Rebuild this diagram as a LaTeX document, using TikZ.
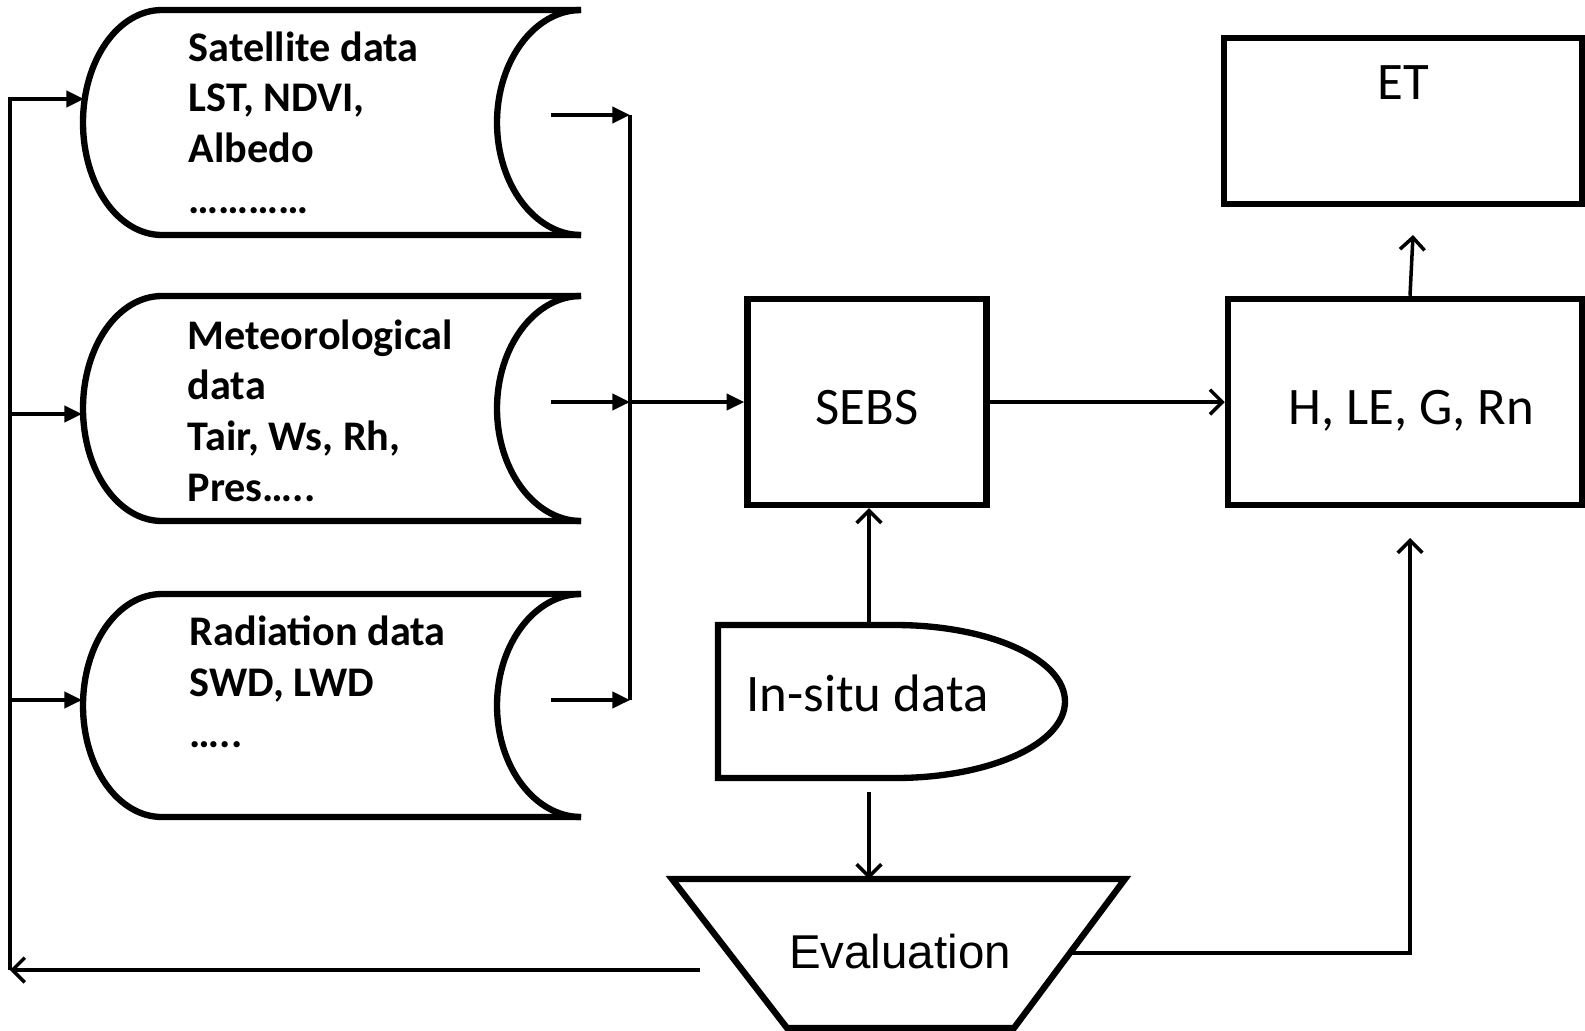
\documentclass[tikz,border=0pt]{standalone}
\usepackage{fontspec}
\setmainfont{Carlito}
\newfontfamily\arialfont{Liberation Sans}
\usetikzlibrary{arrows.meta,calc}

\begin{document}
\begin{tikzpicture}[x=0.01cm,y=-0.01cm,line width=1pt,
	>={Straight Barb[length=3.5pt,width=7pt]},
	voll/.style={-{Triangle[length=5pt,width=4.6pt]}},
	rand/.style={line width=1.8pt},
	kasten/.style={draw,rand,font=\fontsize{15}{18}\selectfont,text height=0.44cm,text depth=0pt},
	fett/.style={font=\bfseries\fontsize{12}{14.4}\selectfont,align=left,anchor=base west,inner sep=0pt}]
\useasboundingbox (0,0) rectangle (1585,1030);

% Datenspeicher: oben, unten
\def\speicher#1#2{
	\pgfmathsetmacro\ym{(#1+#2)/2}
	\pgfmathsetmacro\yr{(#2-#1)/2}
	\draw[rand] (581,#1) -- (162,#1)
		.. controls (118,#1) and (83,{\ym-0.552*\yr}) .. (83,\ym)
		.. controls (83,{\ym+0.552*\yr}) and (118,#2) .. (162,#2) -- (581,#2);
	\draw[rand] (581,#1)
		.. controls (535,#1) and (497,{\ym-0.552*\yr}) .. (497,\ym)
		.. controls (497,{\ym+0.552*\yr}) and (535,#2) .. (581,#2);
}

\speicher{10}{235}
\speicher{296}{521}
\speicher{594}{817}

% Texte, Anker auf der letzten Zeile
\node[fett] (sat) at (187,213) {Satellite data\\LST, NDVI,\\Albedo\\…………};
\node[fett] (met) at (186,501) {Meteorological\\data\\Tair, Ws, Rh,\\Pres…..};
\node[fett] (rad) at (188,747) {Radiation data\\SWD, LWD\\…..};

\node[kasten,minimum width=2.39cm,minimum height=2.06cm] (sebs) at (867,402) {SEBS};
\node[kasten,minimum width=3.54cm,minimum height=2.06cm] (flux) at (1405,402) {\hspace{0.12cm}H, LE, G, Rn};
\node[kasten,minimum width=3.58cm,minimum height=1.66cm,text height=0.34cm,text depth=0.76cm] (et) at (1403,121) {ET};

% In-situ Daten
\draw[rand] (895,625) -- (718,625) -- (718,778) -- (895,778)
	.. controls (989,778) and (1065,744) .. (1065,701.5)
	.. controls (1065,659) and (989,625) .. (895,625) -- cycle;
\node[font=\fontsize{15}{18}\selectfont,anchor=west] (insitu) at (733,693) {In-situ data};

% Evaluation
\draw[rand] (672,879) -- (1125,879) -- (1014,1028) -- (787,1028) -- cycle;
\node[font=\arialfont\fontsize{13.5}{16}\selectfont] (eval) at (900,952) {Evaluation};

\coordinate (rueck) at (10,970);
\coordinate (eval-w) at (700,970);
\coordinate (eval-o) at (1070,953);
\coordinate (eval-n) at (869,879);
\coordinate (insitu-n) at (869,625);
\coordinate (insitu-s) at (869,792);
\coordinate (flux-s) at (1410,538);
\coordinate (et-s) at (1413,235);
\coordinate (sat-ein) at (84,99);
\coordinate (met-ein) at (82,414);
\coordinate (rad-ein) at (82,700);
\coordinate (sat-aus) at (551,115);
\coordinate (met-aus) at (551,402);
\coordinate (rad-aus) at (551,700);
\coordinate (bus-o) at (630,115);
\coordinate (bus-u) at (630,700);

\draw[->] (eval-w) -- (rueck);
\draw[voll] (rueck) |- (sat-ein);
\draw[voll] (rueck |- met-ein) -- (met-ein);
\draw[voll] (rueck |- rad-ein) -- (rad-ein);

\draw (bus-o) -- (bus-u);
\draw[voll] (sat-aus) -- (bus-o);
\draw[voll] (met-aus) -- (met-aus -| bus-o);
\draw[voll] (rad-aus) -- (bus-u);
\draw[voll] (met-aus -| bus-o) -- (sebs.west);

\draw[->] (sebs) -- (flux);
\draw[->] (flux.north -| et-s) ++(-3,0) -- (et-s);
\draw[->] (insitu-n) -- (insitu-n |- sebs.south);
\draw[->] (insitu-s) -- (eval-n);
\draw[->] (eval-o) -| (flux-s);

\end{tikzpicture}
\end{document}
